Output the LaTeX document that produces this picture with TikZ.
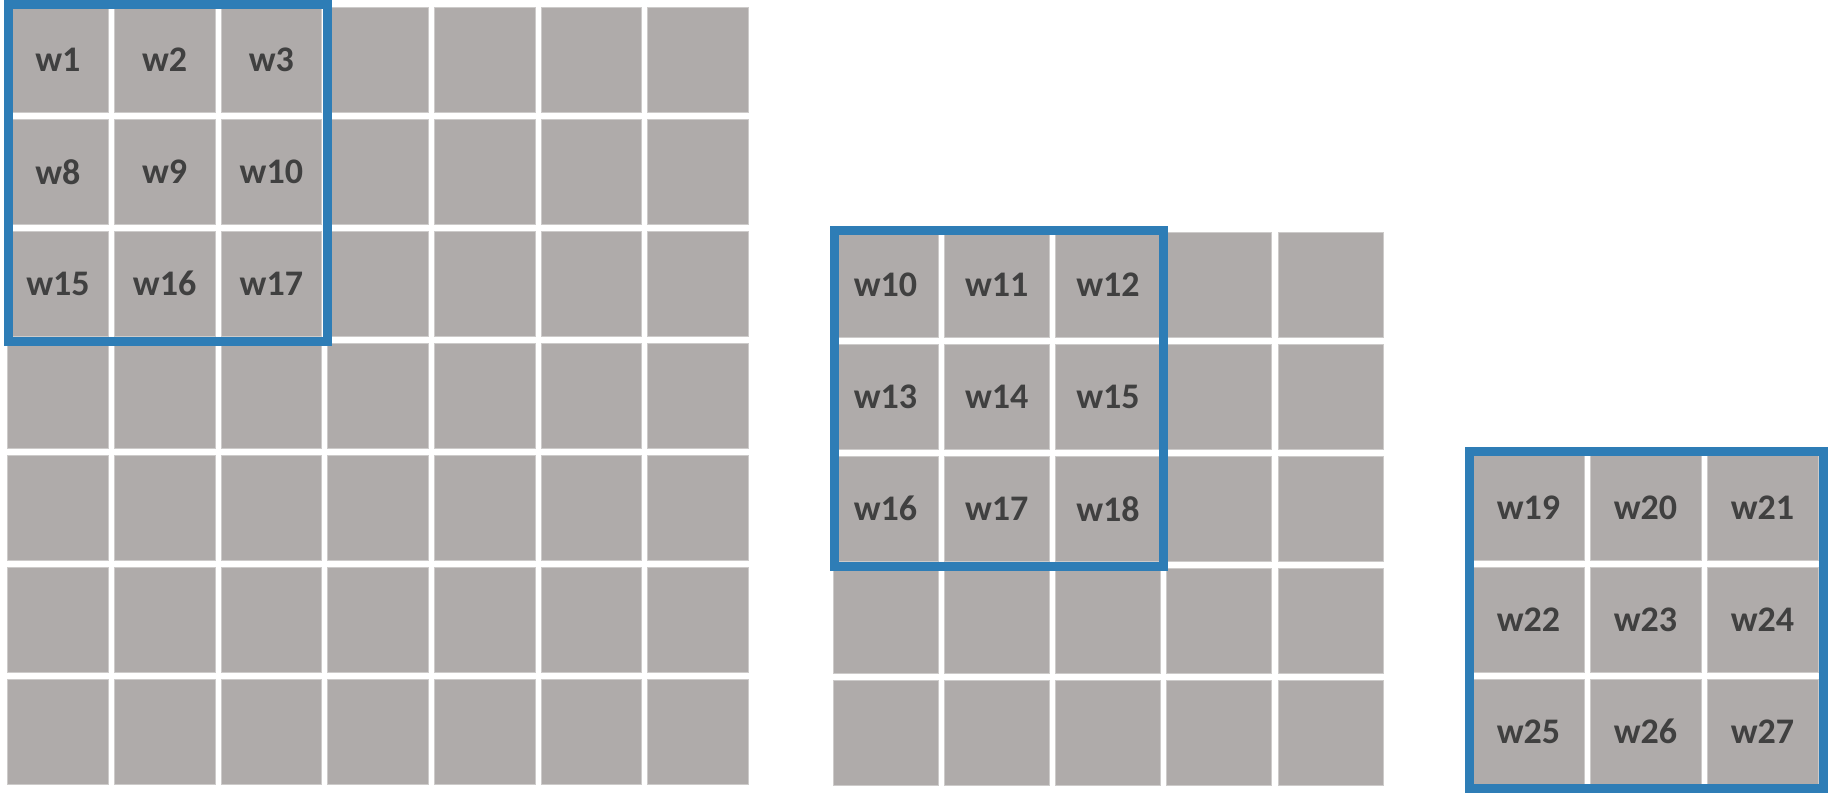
\documentclass[tikz,border=0pt]{standalone}
\usepackage{fontspec}
\setmainfont{Carlito}
\definecolor{cellgray}{RGB}{175,171,170}
\definecolor{celledge}{RGB}{205,203,202}
\definecolor{frameblue}{RGB}{46,125,182}
\definecolor{txt}{RGB}{64,64,64}
\begin{document}
\begin{tikzpicture}[x=0.5pt,y=-0.5pt,
  cell/.style={fill=cellgray, draw=celledge, line width=0.4pt, inner sep=0pt, outer sep=0pt,
    anchor=north west, minimum height=52.75pt, text=txt,
    font=\fontsize{18}{20}\selectfont\bfseries},
  frame/.style={draw=frameblue, line width=4.5pt}]
\useasboundingbox (0,0) rectangle (1830,796);
% left 7x7 grid
\foreach \r in {0,...,6}{\foreach \c in {0,...,6}{
  \pgfmathtruncatemacro\n{\r*7+\c+1}
  \ifnum\r<3 \ifnum\c<3 \edef\lab{w\n}\else\def\lab{}\fi\else\def\lab{}\fi
  \node[cell, minimum width=50.35pt] (L-\r-\c) at ({7.6+106.7*\c},{7+112*\r}) {\lab};
}}
% middle 5x5 grid
\foreach \r in {0,...,4}{\foreach \c in {0,...,4}{
  \pgfmathtruncatemacro\n{10+\r*3+\c}
  \ifnum\r<3 \ifnum\c<3 \edef\lab{w\n}\else\def\lab{}\fi\else\def\lab{}\fi
  \node[cell, minimum width=52.5pt] (M-\r-\c) at ({833+111.25*\c},{232+112*\r}) {\lab};
}}
% right 3x3 grid
\foreach \r in {0,...,2}{\foreach \c in {0,...,2}{
  \pgfmathtruncatemacro\n{19+\r*3+\c}
  \node[cell, minimum width=55.5pt] (R-\r-\c) at ({1473+117*\c},{455+112*\r}) {w\n};
}}
% blue frames
\draw[frame] (8.7,5) rectangle (327,342);
\draw[frame] (834.5,230.5) rectangle (1163,566.5);
\draw[frame] (1469,451) rectangle (1823.5,788.5);
\end{tikzpicture}
\end{document}
